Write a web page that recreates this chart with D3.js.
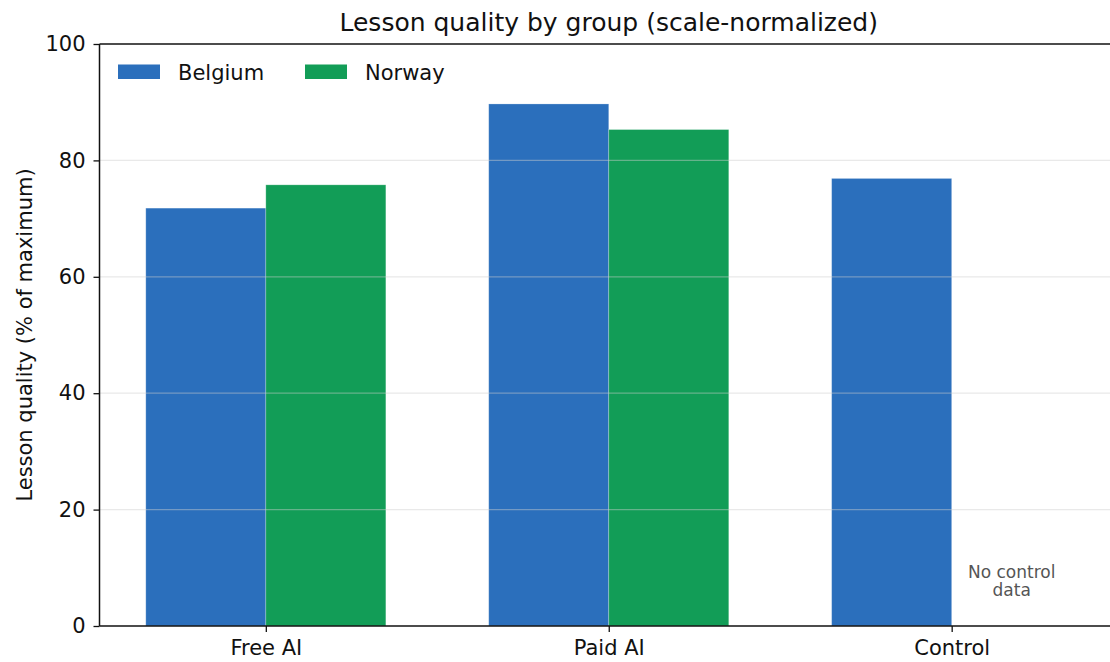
<!DOCTYPE html>
<html>
<head>
<meta charset="utf-8">
<script src="https://cdn.jsdelivr.net/npm/d3@7"></script>
<style>
  body { margin: 0; background: #fff; }
  svg { display: block; font-family: "DejaVu Sans", sans-serif; }
</style>
</head>
<body>
<div id="chart"></div>
<script>
// data
const groups = ["Free AI", "Paid AI", "Control"]
const countries = ["Belgium", "Norway"]
const belgium = [71.8, 89.7, 76.9]
const norway = [75.8, 85.3, null]
const yTicks = [0, 20, 40, 60, 80, 100]

const colors = {Belgium: "#2b6fbc", Norway: "#129d57"}

let width = 1110
let height = 662

let text_size_tick = 21
let text_size_title = 25

// plot box
let m_left = 99.5
let m_right = 1118
let m_top = 44
let m_bottom = 626

let svg = d3.select("#chart").append("svg")
  .attr("width", width)
  .attr("height", height)

// x: category positions at 0,1,2 with matplotlib-like margins
let x = d3.scaleLinear().domain([-0.485, 2.485]).range([m_left, m_right])
let y = d3.scaleLinear().domain([0, 100]).range([m_bottom, m_top])
let barW = 0.35

let series = [
  {name: "Belgium", values: belgium, offset: -barW / 2},
  {name: "Norway", values: norway, offset: barW / 2}
]

// bars
series.forEach(s => {
  svg.append("g").selectAll("rect")
    .data(s.values.map((v, i) => ({v, i})).filter(d => d.v != null))
    .join("rect")
    .attr("x", d => x(d.i + s.offset - barW / 2))
    .attr("width", d => x(barW) - x(0))
    .attr("y", d => y(d.v))
    .attr("height", d => y(0) - y(d.v))
    .attr("fill", colors[s.name])
    .attr("stroke", "#fff")
    .attr("stroke-opacity", 0.3)
    .attr("stroke-width", 0.8)
})

// grid (drawn over bars like the reference)
svg.append("g").selectAll("line")
  .data(yTicks.filter(t => t > 0 && t < 100))
  .join("line")
  .attr("x1", m_left).attr("x2", m_right)
  .attr("y1", d => y(d)).attr("y2", d => y(d))
  .attr("stroke", "#cfcfcf")
  .attr("stroke-opacity", 0.45)
  .attr("stroke-width", 1.3)

// no-data note
let note = svg.append("text")
  .attr("x", x(2 + barW / 2))
  .attr("y", 578)
  .attr("text-anchor", "middle")
  .attr("font-size", 17)
  .attr("fill", "#555")
note.append("tspan").attr("x", x(2 + barW / 2)).text("No control")
note.append("tspan").attr("x", x(2 + barW / 2)).attr("dy", 18).text("data")

// axes
let yAxis = svg.append("g")
  .attr("transform", `translate(${m_left},0)`)
  .call(d3.axisLeft(y).tickValues(yTicks).tickSize(6).tickPadding(8))
yAxis.select(".domain").remove()
yAxis.selectAll("text").attr("font-size", text_size_tick).attr("fill", "#111").attr("font-family", "DejaVu Sans")
yAxis.selectAll("line").attr("stroke", "#111").attr("stroke-width", 1.3)

let xAxis = svg.append("g")
  .attr("transform", `translate(0,${m_bottom})`)
  .call(d3.axisBottom(x).tickValues([0, 1, 2]).tickFormat(i => groups[i]).tickSize(6).tickPadding(8))
xAxis.select(".domain").remove()
xAxis.selectAll("text").attr("font-size", text_size_tick).attr("fill", "#111").attr("font-family", "DejaVu Sans")
xAxis.selectAll("line").attr("stroke", "#111").attr("stroke-width", 1.3)

// spines: left, bottom, top
svg.append("line").attr("x1", m_left).attr("x2", m_left).attr("y1", m_top).attr("y2", m_bottom)
  .attr("stroke", "#111").attr("stroke-width", 1.5)
svg.append("line").attr("x1", m_left).attr("x2", m_right).attr("y1", m_bottom).attr("y2", m_bottom)
  .attr("stroke", "#111").attr("stroke-width", 1.5)
svg.append("line").attr("x1", m_left).attr("x2", m_right).attr("y1", m_top).attr("y2", m_top)
  .attr("stroke", "#111").attr("stroke-width", 1.5)

// title
svg.append("text")
  .attr("x", (m_left + m_right) / 2)
  .attr("y", 31)
  .attr("text-anchor", "middle")
  .attr("font-size", text_size_title)
  .attr("fill", "#111")
  .text("Lesson quality by group (scale-normalized)")

// y label
svg.append("text")
  .attr("transform", `translate(32,${(m_top + m_bottom) / 2}) rotate(-90)`)
  .attr("text-anchor", "middle")
  .attr("font-size", text_size_tick)
  .attr("fill", "#111")
  .text("Lesson quality (% of maximum)")

// legend
let legend = svg.append("g")
countries.forEach((c, i) => {
  let lx = 118 + i * 187
  legend.append("rect")
    .attr("x", lx).attr("y", 64.5)
    .attr("width", 42).attr("height", 14.5)
    .attr("fill", colors[c])
  legend.append("text")
    .attr("x", lx + 60).attr("y", 80)
    .attr("font-size", text_size_tick)
    .attr("fill", "#111")
    .text(c)
})
</script>
</body>
</html>
